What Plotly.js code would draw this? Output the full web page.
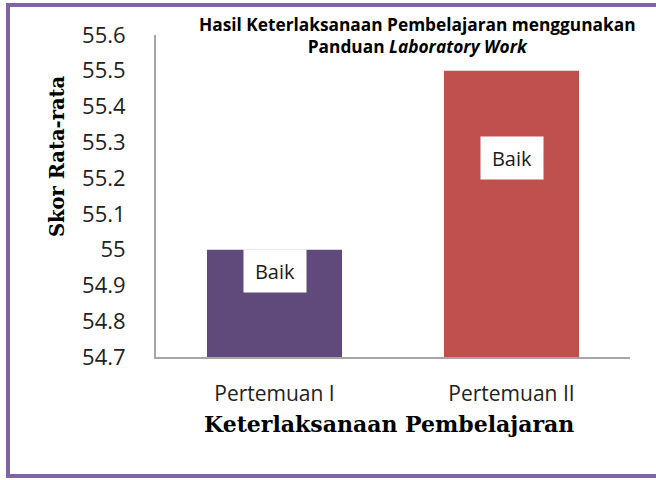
<!DOCTYPE html>
<html>
<head>
<meta charset="utf-8">
<script src="https://cdn.plot.ly/plotly-3.0.1.min.js"></script>
<style>html,body{margin:0;padding:0;background:#fff;}#chart{width:656px;height:480px;}</style>
</head>
<body>
<div id="chart"></div>
<script>
// ---- data ----
const categories = ["Pertemuan I", "Pertemuan II"];
const scores = [55.0, 55.5];
const barColors = ["#604A7B", "#C0504D"];
const labelTexts = ["Baik", "Baik"];
const labelY = [54.94, 55.255];
const yTicks = [54.7, 54.8, 54.9, 55, 55.1, 55.2, 55.3, 55.4, 55.5, 55.6];
const yTickText = ["54.7", "54.8", "54.9", "55", "55.1", "55.2", "55.3", "55.4", "55.5", "55.6"];
const yMin = 54.7, yMax = 55.6;

// ---- layout geometry ----
const W = 656, H = 480;
const M = {l: 156, r: 26, t: 35, b: 123};
const pw = W - M.l - M.r, ph = H - M.t - M.b;
const px = x => (x - M.l) / pw;
const py = y => (H - M.b - y) / ph;

const trace = {
  type: "bar",
  x: categories,
  y: scores.map(v => v - yMin),
  base: yMin,
  marker: {color: barColors},
  hoverinfo: "skip"
};

const annotations = categories.map((c, i) => ({
  x: c, y: labelY[i], xref: "x", yref: "y",
  text: labelTexts[i], showarrow: false,
  font: {family: "Open Sans", size: 20, color: "#1a1a1a"},
  bgcolor: "#ffffff", width: 46, height: 26, borderpad: 8
}));
annotations.push({
  xref: "paper", yref: "paper", x: px(417), y: py(35), xanchor: "center", yanchor: "middle",
  text: "<b>Hasil Keterlaksanaan Pembelajaran menggunakan<br>Panduan <i>Laboratory Work</i></b>",
  showarrow: false, align: "center",
  font: {family: "Open Sans", size: 17.3, color: "#000"}
});
annotations.push({
  xref: "paper", yref: "paper", x: px(57), y: py(156), xanchor: "center", yanchor: "middle",
  text: "<b>Skor Rata-rata</b>", textangle: -90, showarrow: false,
  font: {family: "DejaVu Serif", size: 19.5, color: "#000"}
});
annotations.push({
  xref: "paper", yref: "paper", x: px(389), y: py(424), xanchor: "center", yanchor: "middle",
  text: "<b>Keterlaksanaan Pembelajaran</b>", showarrow: false,
  font: {family: "DejaVu Serif", size: 22, color: "#000"}
});

const layout = {
  width: W, height: H,
  margin: M,
  paper_bgcolor: "#fff", plot_bgcolor: "#fff",
  showlegend: false,
  bargap: 0.43,
  xaxis: {
    type: "category",
    showline: true, linecolor: "#A6A6A6", linewidth: 2,
    ticks: "", showgrid: false, zeroline: false,
    ticklabelstandoff: 17,
    tickfont: {family: "Open Sans", size: 21, color: "#222"}
  },
  yaxis: {
    range: [yMin, yMax],
    tickvals: yTicks, ticktext: yTickText,
    showline: true, linecolor: "#A6A6A6", linewidth: 2,
    ticks: "", showgrid: false, zeroline: false,
    ticklabelstandoff: 24,
    tickfont: {family: "Open Sans", size: 22, color: "#222"}
  },
  annotations: annotations,
  shapes: [
    {type: "line", xref: "paper", yref: "paper", x0: px(8), x1: px(8), y0: py(5), y1: py(476),
      line: {color: "#8064A2", width: 4}, layer: "above"},
    {type: "line", xref: "paper", yref: "paper", x0: px(6), x1: px(660), y0: py(5), y1: py(5),
      line: {color: "#8064A2", width: 4}, layer: "above"},
    {type: "line", xref: "paper", yref: "paper", x0: px(6), x1: px(660), y0: py(476), y1: py(476),
      line: {color: "#8064A2", width: 4}, layer: "above"}
  ]
};

Plotly.newPlot("chart", [trace], layout, {displayModeBar: false, staticPlot: true});
</script>
</body>
</html>
